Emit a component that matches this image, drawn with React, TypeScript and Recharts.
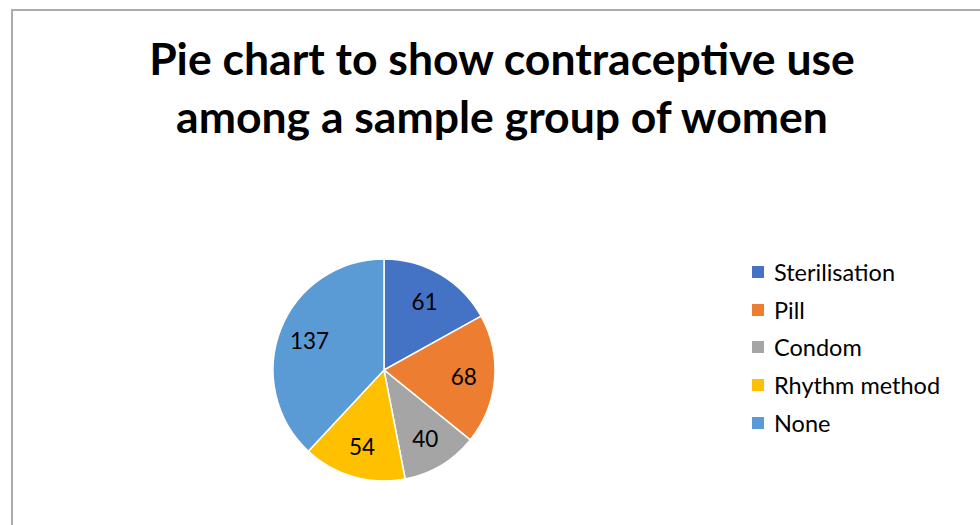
import React from "react";
import { PieChart, Pie, Cell, Legend } from "recharts";

const categories = ["Sterilisation", "Pill", "Condom", "Rhythm method", "None"];
const counts = [61, 68, 40, 54, 137];
const colors = ["#4472C4", "#ED7D31", "#A5A5A5", "#FFC000", "#5B9BD5"];
const titleLines = ["Pie chart to show contraceptive use", "among a sample group of women"];

const data = categories.map((name, i) => ({ name, value: counts[i] }));

const FONT = "Lato, 'Open Sans', sans-serif";
const RAD = Math.PI / 180;

const renderLabel = (props: any) => {
  const { cx, cy, midAngle, value } = props;
  const r = 80;
  const x = cx + r * Math.cos(-midAngle * RAD);
  const y = cy + r * Math.sin(-midAngle * RAD);
  return (
    <text
      x={x}
      y={y}
      fill="#000"
      textAnchor="middle"
      dominantBaseline="central"
      style={{ fontFamily: FONT, fontSize: 22.5 }}
    >
      {value}
    </text>
  );
};

const renderLegend = () => (
  <div style={{ fontFamily: FONT, fontSize: 23.5, color: "#000" }}>
    {categories.map((c, i) => (
      <div key={c} style={{ display: "flex", alignItems: "center", height: 37.7 }}>
        <span
          style={{
            display: "inline-block",
            width: 12,
            height: 12,
            background: colors[i],
            marginRight: 10,
          }}
        />
        <span>{c}</span>
      </div>
    ))}
  </div>
);

export default function App() {
  return (
    <div style={{ position: "fixed", left: 0, top: 0, width: 980, height: 525, background: "#fff", overflow: "hidden" }}>
      <div
        style={{
          position: "absolute",
          left: 11,
          top: 9,
          width: 1100,
          height: 700,
          borderLeft: "2px solid #ababab",
          borderTop: "2px solid #ababab",
        }}
      />
      <div
        style={{
          position: "absolute",
          left: 0,
          width: 1004,
          top: 29,
          textAlign: "center",
          fontFamily: FONT,
          fontWeight: 700,
          fontSize: 44.5,
          lineHeight: "58px",
          color: "#000",
        }}
      >
        {titleLines.map((t) => (
          <div key={t}>{t}</div>
        ))}
      </div>
      <div style={{ position: "absolute", left: 0, top: 0 }}>
        <PieChart width={980} height={525} margin={{ top: 0, right: 0, bottom: 0, left: 0 }}>
          <Pie
            data={data}
            dataKey="value"
            nameKey="name"
            cx={384}
            cy={370}
            outerRadius={111}
            startAngle={90}
            endAngle={-270}
            stroke="#fff"
            strokeWidth={1.5}
            label={renderLabel}
            labelLine={false}
            isAnimationActive={false}
          >
            {data.map((d, i) => (
              <Cell key={d.name} fill={colors[i]} />
            ))}
          </Pie>
          <Legend
            layout="vertical"
            content={renderLegend}
            wrapperStyle={{ left: 752, top: 253, width: 225 }}
          />
        </PieChart>
      </div>
    </div>
  );
}
